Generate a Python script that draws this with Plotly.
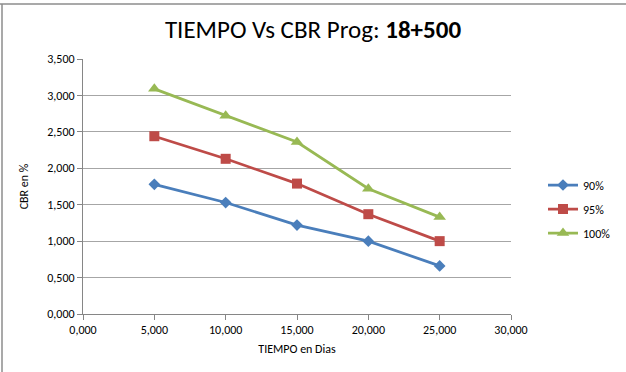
import plotly.graph_objects as go

tiempo = [5, 10, 15, 20, 25]
cbr_90 = [1.78, 1.53, 1.22, 1.00, 0.66]
cbr_95 = [2.44, 2.13, 1.79, 1.37, 1.00]
cbr_100 = [3.09, 2.72, 2.36, 1.72, 1.33]
series_names = ["90%", "95%", "100%"]

colors = ["#4A7EBB", "#BE4B48", "#98B954"]
symbols = ["diamond", "square", "triangle-up"]
sizes = [9, 10, 11]

fig = go.Figure()
for name, ys, c, s, sz in zip(series_names, [cbr_90, cbr_95, cbr_100], colors, symbols, sizes):
    fig.add_trace(go.Scatter(
        x=tiempo, y=ys, name=name, mode="lines+markers", legendgroup=name,
        line=dict(color=c, width=2.75),
        marker=dict(symbol=s, size=sz, color=c),
    ))

W, H = 626, 372
L, R, T, B = 83, 115, 59, 58
PW = W - L - R
PH = H - T - B

font_family = "Carlito, Lato, 'Open Sans', sans-serif"
fig.update_layout(
    width=W, height=H,
    margin=dict(l=L, r=R, t=T, b=B, autoexpand=False),
    paper_bgcolor="white", plot_bgcolor="white",
    separators=", ",
    font=dict(family=font_family, size=12, color="#000000"),
    title=dict(text="TIEMPO Vs CBR Prog: <b>18+500</b>", x=0.5, xanchor="center",
               y=0.922, yanchor="middle", font=dict(size=25, color="#000000")),
    xaxis=dict(range=[0, 30], dtick=5, tickformat=".3f", showgrid=False,
               automargin=False,
               showline=True, linecolor="#868686", linewidth=1,
               ticks="outside", ticklen=5, tickcolor="#868686",
               title=dict(text="TIEMPO en Dias", standoff=8, font=dict(size=12)),
               zeroline=False, tickfont=dict(size=12)),
    yaxis=dict(range=[0, 3.5], dtick=0.5, tickformat=".3f", showgrid=True,
               automargin=False,
               gridcolor="#A6A6A6", gridwidth=1,
               showline=True, linecolor="#868686", linewidth=1,
               ticks="outside", ticklen=5, tickcolor="#868686",
               title=dict(text="CBR en %", standoff=16, font=dict(size=12)),
               zeroline=False, tickfont=dict(size=12)),
    legend=dict(xref="container", yref="container",
                x=543 / W, y=1 - 209 / H, xanchor="left", yanchor="middle",
                font=dict(size=12), tracegroupgap=5, itemwidth=30,
                bgcolor="rgba(0,0,0,0)"),
    shapes=[
        dict(type="line", xref="paper", yref="paper", x0=-L / PW, x1=(W - L) / PW,
             y0=(H - T - 3) / PH, y1=(H - T - 3) / PH, line=dict(color="#8C8C8C", width=1.5)),
        dict(type="line", xref="paper", yref="paper", x0=-(L - 2) / PW, x1=-(L - 2) / PW,
             y0=-B / PH, y1=(H - T - 3) / PH, line=dict(color="#8C8C8C", width=1.5)),
    ],
)

fig.write_html("out.html", config={"displayModeBar": False},
               post_script="document.body.style.margin='0';document.body.style.overflow='hidden';")
